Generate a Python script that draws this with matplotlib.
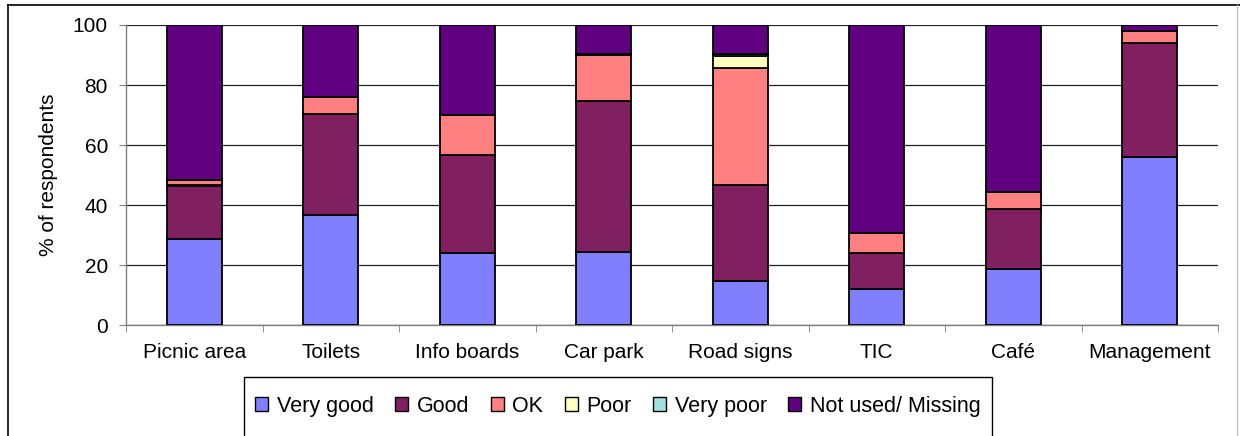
import numpy as np
import matplotlib
matplotlib.use("Agg")
import matplotlib.pyplot as plt
from matplotlib.lines import Line2D
from matplotlib.patches import Rectangle, Patch

plt.rcParams['font.family'] = ['Liberation Sans', 'DejaVu Sans']

categories = ["Picnic area", "Toilets", "Info boards", "Car park",
              "Road signs", "TIC", "Café", "Management"]
series_names = ["Very good", "Good", "OK", "Poor", "Very poor", "Not used/ Missing"]
very_good = [28.6, 36.6, 23.9, 24.4, 14.6, 11.9, 18.6, 55.9]
good = [17.9, 33.9, 32.7, 50.2, 32.1, 12.0, 20.0, 38.0]
ok = [1.8, 5.4, 13.3, 15.3, 39.1, 6.7, 5.8, 4.0]
poor = [0.0, 0.0, 0.0, 0.6, 4.0, 0.0, 0.0, 0.0]
very_poor = [0.0, 0.0, 0.0, 0.0, 0.4, 0.0, 0.0, 0.0]
not_used = [51.7, 24.1, 30.1, 9.5, 9.8, 69.4, 55.6, 2.1]
colors = ["#8080FF", "#802060", "#FF8080", "#FFFFC0", "#A0E0E0", "#600080"]

W, H = 1240, 436
fig = plt.figure(figsize=(W / 100, H / 100), dpi=100)
ax = fig.add_axes([126 / W, 1 - 325 / H, (1218 - 126) / W, 300 / H])

x = np.arange(len(categories))
bottom = np.zeros(len(categories))
for name, vals, c in zip(series_names,
                         [very_good, good, ok, poor, very_poor, not_used], colors):
    ax.bar(x, vals, 0.4, bottom=bottom, color=c, edgecolor="black",
           linewidth=1.3, label=name, zorder=3)
    bottom += np.array(vals)

ax.set_xlim(-0.5, len(categories) - 0.5)
ax.set_ylim(0, 100)
ax.set_yticks(range(0, 101, 20))
ax.yaxis.grid(True, color="#222222", linewidth=0.9, zorder=0)
ax.set_axisbelow(True)
for s in ["top", "right"]:
    ax.spines[s].set_visible(False)
for s in ["left", "bottom"]:
    ax.spines[s].set_color("#808080")
    ax.spines[s].set_linewidth(1.0)

ax.set_xticks(x)
ax.set_xticklabels(categories)
ax.set_xticks(np.arange(-0.5, len(categories)), minor=True)
ax.tick_params(axis="x", which="major", length=0, pad=13, labelsize=15)
ax.tick_params(axis="x", which="minor", length=5, color="#808080", direction="out")
ax.tick_params(axis="y", length=5, color="#808080", pad=8, labelsize=15)
ax.set_ylabel("% of respondents", fontsize=15, labelpad=11)

# legend box (clipped at the bottom of the picture)
fig.patches.append(Rectangle((244 / W, -0.1), (992 - 244) / W, 0.1 + (H - 377) / H,
                             transform=fig.transFigure, facecolor="white",
                             edgecolor="black", linewidth=1.0))
handles = [Patch(facecolor=c, edgecolor="black", linewidth=1.0) for c in colors]
fig.legend(handles, series_names, loc="center", bbox_to_anchor=(618 / W, 1 - 406 / H),
           ncol=6, frameon=False, fontsize=15.5, handlelength=0.6, handleheight=0.6,
           handletextpad=0.4, columnspacing=1.0, borderpad=0)

# outer chart border
fig.add_artist(Line2D([8 / W, 1], [1 - 5 / H, 1 - 5 / H], color="black", lw=1.2,
                      transform=fig.transFigure))
fig.add_artist(Line2D([8 / W, 8 / W], [0, 1 - 5 / H], color="black", lw=1.2,
                      transform=fig.transFigure))
fig.add_artist(Line2D([1237 / W, 1237 / W], [0, 1 - 5 / H], color="#C0C0C0", lw=1.0,
                      transform=fig.transFigure))

fig.savefig("out.png", dpi=100)
